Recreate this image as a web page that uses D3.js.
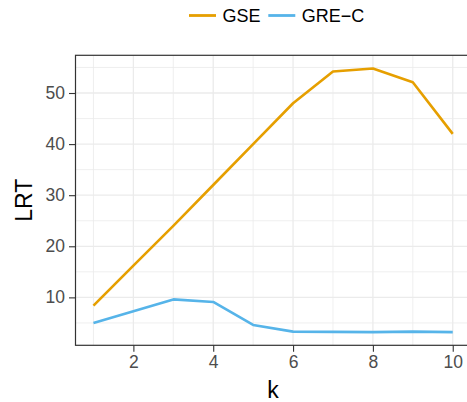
<!DOCTYPE html>
<html>
<head>
<meta charset="utf-8">
<script src="https://cdn.jsdelivr.net/npm/d3@7"></script>
<style>
  html, body { margin: 0; padding: 0; background: #fff; }
  svg { display: block; font-family: "Liberation Sans", Arial, sans-serif; }
</style>
</head>
<body>
<svg id="chart" width="467" height="402"></svg>
<script>
// Likelihood-ratio statistic by number of components k
const ks = [1, 2, 3, 4, 5, 6, 7, 8, 9, 10];
const gse = [8.4, 16.2, 24.0, 32.0, 40.0, 48.0, 54.2, 54.8, 52.1, 42.0];
const grec = [5.0, 7.3, 9.6, 9.1, 4.6, 3.3, 3.25, 3.2, 3.3, 3.2];
const seriesNames = ["GSE", "GRE\u2212C"];
const seriesColors = ["#E69F00", "#56B4E9"];
const xTicks = [2, 4, 6, 8, 10];
const xMinor = [1, 3, 5, 7, 9, 11];
const yTicks = [10, 20, 30, 40, 50];
const yMinor = [5, 15, 25, 35, 45, 55];

const svg = d3.select("#chart");
const panel = { left: 75.5, top: 55.3, right: 470.7, bottom: 345.3 };

// ggplot-style 5% / 0.45 expansion around the data range
const allY = gse.concat(grec);
const yMin = d3.min(allY), yMax = d3.max(allY), yr = yMax - yMin;
const x = d3.scaleLinear().domain([1 - 0.45, 10 + 0.45]).range([panel.left, panel.right]);
const y = d3.scaleLinear().domain([yMin - 0.05 * yr, yMax + 0.05 * yr]).range([panel.bottom, panel.top]);

const g = svg.append("g");

// grid
g.selectAll(".ymin").data(yMinor).join("line")
  .attr("x1", panel.left).attr("x2", panel.right)
  .attr("y1", d => y(d)).attr("y2", d => y(d))
  .attr("stroke", "#EBEBEB").attr("stroke-width", 0.8);
g.selectAll(".xmin").data(xMinor).join("line")
  .attr("y1", panel.top).attr("y2", panel.bottom)
  .attr("x1", d => x(d)).attr("x2", d => x(d))
  .attr("stroke", "#EBEBEB").attr("stroke-width", 0.8);
g.selectAll(".ymaj").data(yTicks).join("line")
  .attr("x1", panel.left).attr("x2", panel.right)
  .attr("y1", d => y(d)).attr("y2", d => y(d))
  .attr("stroke", "#EBEBEB").attr("stroke-width", 1.3);
g.selectAll(".xmaj").data(xTicks).join("line")
  .attr("y1", panel.top).attr("y2", panel.bottom)
  .attr("x1", d => x(d)).attr("x2", d => x(d))
  .attr("stroke", "#EBEBEB").attr("stroke-width", 1.3);

// series lines
const line = d3.line().x((d, i) => x(ks[i])).y(d => y(d));
[gse, grec].forEach((s, i) => {
  g.append("path").datum(s)
    .attr("d", line)
    .attr("fill", "none")
    .attr("stroke", seriesColors[i])
    .attr("stroke-width", 2.6)
    .attr("stroke-linejoin", "round");
});

// panel border
g.append("rect")
  .attr("x", panel.left).attr("y", panel.top)
  .attr("width", panel.right - panel.left).attr("height", panel.bottom - panel.top)
  .attr("fill", "none").attr("stroke", "#333333").attr("stroke-width", 1.2);

// axes
const xAxis = d3.axisBottom(x).tickValues(xTicks).tickSize(6.5).tickPadding(4);
const yAxis = d3.axisLeft(y).tickValues(yTicks).tickSize(6.5).tickPadding(4);
const xa = svg.append("g").attr("transform", `translate(0,${panel.bottom})`).call(xAxis);
const ya = svg.append("g").attr("transform", `translate(${panel.left},0)`).call(yAxis);
[xa, ya].forEach(a => {
  a.select(".domain").remove();
  a.selectAll(".tick line").attr("stroke", "#333333").attr("stroke-width", 1.1);
  a.selectAll(".tick text").attr("fill", "#4D4D4D")
    .style("font-size", "17.5px").style("font-family", "Liberation Sans, Arial, sans-serif");
});

// axis titles
svg.append("text")
  .attr("x", (panel.left + panel.right) / 2).attr("y", 398)
  .attr("text-anchor", "middle").style("font-size", "23px").attr("fill", "#000")
  .text("k");
svg.append("text")
  .attr("transform", `translate(31.5,${(panel.top + panel.bottom) / 2}) rotate(-90)`)
  .attr("text-anchor", "middle").style("font-size", "23px").attr("fill", "#000")
  .text("LRT");

// legend
const legendY = 15.5;
const keyStarts = [189, 268.3];
seriesNames.forEach((name, i) => {
  const lx = keyStarts[i];
  svg.append("line")
    .attr("x1", lx).attr("x2", lx + 27).attr("y1", legendY).attr("y2", legendY)
    .attr("stroke", seriesColors[i]).attr("stroke-width", 2.8);
  svg.append("text")
    .attr("x", lx + 33.5).attr("y", legendY + 6.5)
    .style("font-size", "18px").attr("fill", "#000")
    .text(name);
});
</script>
</body>
</html>
